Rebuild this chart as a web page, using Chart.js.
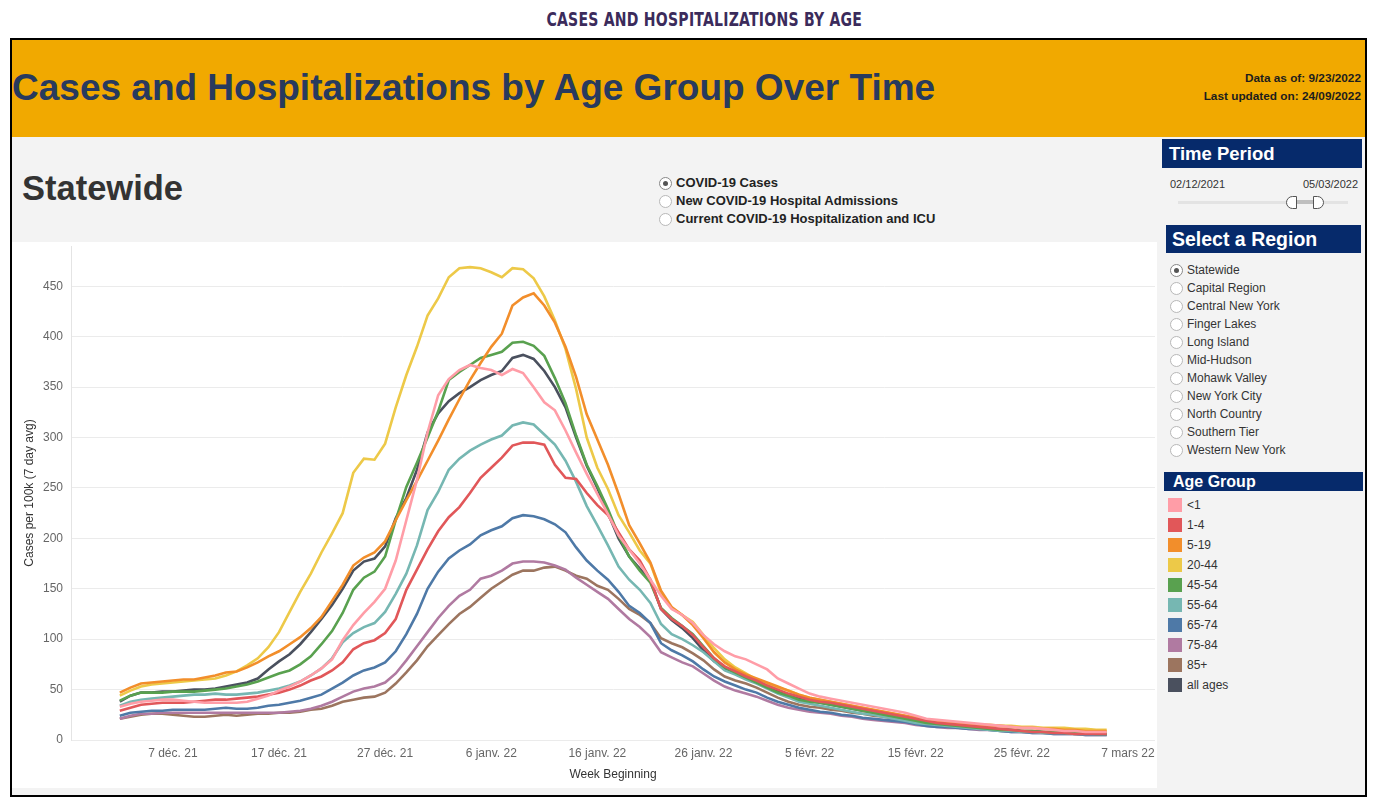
<!DOCTYPE html>
<html>
<head>
<meta charset="utf-8">
<script src="https://cdn.jsdelivr.net/npm/chart.js@4.4.1/dist/chart.umd.min.js"></script>
<style>
  html,body{margin:0;padding:0;}
  body{width:1380px;height:811px;background:#fff;position:relative;overflow:hidden;font-family:"Liberation Sans",Arial,sans-serif;}
  .a{position:absolute;}
  #topTitle{left:14px;width:1380px;top:9px;text-align:center;}
  #topTitle span{display:inline-block;transform:scaleX(0.80);transform-origin:center;font-family:"Liberation Sans Narrow","DejaVu Sans Condensed",sans-serif;font-weight:bold;font-size:19.5px;line-height:22px;color:#3b2b5b;letter-spacing:0.3px;}
  #frame{left:10px;top:38px;width:1353px;height:755px;border:2px solid #000;background:#f3f3f3;}
  #band{left:12px;top:40px;width:1353px;height:97px;background:#f1a900;}
  #mainTitle{left:12px;top:66px;font-weight:bold;font-size:37px;line-height:44px;color:#283a5e;white-space:nowrap;}
  .asof{right:19px;font-weight:bold;font-size:11.8px;line-height:14px;color:#1d1d1d;text-align:right;white-space:nowrap;}
  #statewide{left:22px;top:168px;font-weight:bold;font-size:34.5px;line-height:40px;color:#333;}
  .radio{width:11px;height:11px;border:1px solid #b8b8b8;border-radius:50%;background:#fff;box-sizing:content-box;}
  .radio.sel::after{content:"";position:absolute;left:3px;top:3px;width:5px;height:5px;border-radius:50%;background:#555;}
  .radio.sel{border-color:#888;}
  .mlabel{font-weight:bold;font-size:13px;line-height:16px;color:#222;white-space:nowrap;}
  #chartBox{left:12px;top:242px;width:1145px;height:546px;background:#fff;}
  .hdr{background:#062a6b;color:#fff;font-weight:bold;white-space:nowrap;}
  .slabel{font-size:12px;line-height:14px;color:#333;white-space:nowrap;}
  .sw{width:14px;height:14px;}
</style>
</head>
<body>
<div class="a" id="topTitle"><span>CASES AND HOSPITALIZATIONS BY AGE</span></div>
<div class="a" id="frame"></div>
<div class="a" id="band"></div>
<div class="a" id="mainTitle">Cases and Hospitalizations by Age Group Over Time</div>
<div class="a asof" style="top:71px;">Data as of: 9/23/2022</div>
<div class="a asof" style="top:89px;">Last updated on: 24/09/2022</div>
<div class="a" id="statewide">Statewide</div>
<div id="metricList"></div>
<div class="a" id="chartBox"><canvas id="c" width="1145" height="546"></canvas></div>

<div class="a hdr" style="left:1162px;top:139px;width:193px;height:29px;padding-left:7px;font-size:18.5px;line-height:30px;">Time Period</div>
<div class="a slabel" style="left:1170px;top:177px;font-size:11px;">02/12/2021</div>
<div class="a slabel" style="left:1303px;top:177px;font-size:11px;">05/03/2022</div>
<div class="a" style="left:1178px;top:201px;width:170px;height:3px;background:#e3e3e3;"></div>
<div class="a" style="left:1296px;top:200px;width:18px;height:4px;background:#bfbfbf;"></div>
<div class="a" style="left:1286px;top:196px;width:9px;height:11px;border:1px solid #555;border-radius:7px 0 0 7px;background:#fff;"></div>
<div class="a" style="left:1313px;top:196px;width:9px;height:11px;border:1px solid #555;border-radius:0 7px 7px 0;background:#fff;"></div>

<div class="a hdr" style="left:1166px;top:225px;width:189px;height:28px;padding-left:6px;font-size:19.5px;line-height:29px;">Select a Region</div>
<div id="regionList"></div>

<div class="a hdr" style="left:1164px;top:472px;width:190px;height:19px;padding-left:9px;font-size:16px;line-height:20px;">Age Group</div>
<div id="legendList"></div>

<script>
// ---------- DATA ----------
const startDate = '2021-12-02';
const tickDates = ['2021-12-07','2021-12-17','2021-12-27','2022-01-06','2022-01-16','2022-01-26','2022-02-05','2022-02-15','2022-02-25','2022-03-07'];
const tickLabels = ['7 déc. 21','17 déc. 21','27 déc. 21','6 janv. 22','16 janv. 22','26 janv. 22','5 févr. 22','15 févr. 22','25 févr. 22','7 mars 22'];
const axisDaysBefore = 4.6;   // time axis starts ~4.6 days before the first date
const axisDaysAfter = 97.55;  // time axis ends ~97.55 days after the first date
const yTicks = [0,50,100,150,200,250,300,350,400,450];
const yMax = 490;

const seriesNames = ['<1','1-4','5-19','20-44','45-54','55-64','65-74','75-84','85+','all ages'];
const seriesColors = ['#ff9da7','#e15759','#f28e2b','#edc948','#59a14f','#76b7b2','#4e79a7','#b07aa1','#9c755f','#4a505e'];

const ageLt1 = [33,36,38,39,40,40,39,38,37,37, 37,37,38,41,44,49,53,58,64,71, 80,99,114,126,137,150,178,218,258,305, 342,358,367,372,369,367,362,368,364,350, 335,327,307,285,264,244,224,203,189,175, 159,143,130,124,116,104,95,88,83,80, 75,70,61,56,51,46,43,41,39,37, 35,33,31,29,27,24,21,20,19,18, 17,16,15,14,13,12,12,11,10,9, 9,8,8,8];
const age1to4 = [29,32,35,36,37,37,37,38,39,40, 40,41,42,43,45,47,50,54,59,63, 69,77,90,96,99,106,120,149,169,189, 207,221,231,245,260,270,280,292,295,295, 293,273,260,259,245,233,223,206,189,178, 159,130,120,113,104,92,81,73,68,63, 59,54,50,46,43,40,38,37,35,33, 31,29,27,25,23,21,19,17,16,15, 14,13,12,11,10,9,8,8,7,7, 6,6,6,6];
const age5to19 = [47,52,56,57,58,59,60,60,62,64, 67,68,72,77,83,88,95,102,111,122, 138,154,173,181,186,197,218,238,257,277, 297,318,338,357,374,390,403,431,439,443, 431,414,390,360,323,298,273,244,213,195, 176,148,132,124,114,101,87,77,70,65, 61,57,53,49,45,42,40,38,36,34, 32,30,28,26,24,22,20,19,18,17, 16,15,14,14,13,12,12,11,11,10, 10,9,9,9];
const age20to44 = [44,49,53,55,56,57,58,59,60,61, 64,68,74,81,92,107,127,147,165,186, 205,225,265,279,278,294,330,362,390,421, 438,459,468,469,468,464,459,468,467,458, 440,416,388,348,300,270,249,223,206,188, 175,146,131,124,117,104,91,80,72,66, 60,56,52,49,45,42,40,38,36,34, 32,30,28,26,24,22,20,19,18,17, 16,15,15,14,14,13,13,12,12,12, 11,11,10,10];
const age45to54 = [39,44,47,47,47,48,48,48,49,50, 51,53,55,58,62,66,69,75,83,95, 108,126,149,161,167,182,218,251,275,300, 326,357,365,372,379,382,385,394,395,391, 381,359,334,302,273,252,229,203,182,168, 156,131,121,113,105,93,81,72,67,62, 57,52,47,44,40,38,37,35,33,31, 29,27,25,23,21,19,17,16,15,14, 13,12,11,10,10,9,9,8,8,7, 7,7,6,6];
const age55to64 = [34,38,40,41,42,43,44,45,45,46, 45,45,46,47,49,51,54,58,64,71, 81,97,106,112,116,127,145,165,193,228, 246,268,279,287,293,298,302,312,315,313, 303,293,277,256,232,213,193,172,159,149, 136,115,105,100,94,87,78,69,65,60, 56,51,46,42,38,36,34,32,30,28, 26,25,23,21,19,17,16,15,14,13, 12,11,10,9,9,8,8,7,7,7, 6,6,6,6];
const age65to74 = [24,27,28,29,29,30,30,30,30,31, 32,31,31,32,34,35,37,39,42,45, 51,57,64,69,72,77,88,105,125,150, 167,180,188,194,203,208,212,220,223,222, 219,214,206,191,178,168,159,147,133,126, 116,96,89,84,78,70,63,58,54,50, 47,42,38,35,32,30,28,27,25,24, 22,21,20,19,18,16,14,13,13,12, 11,11,10,9,8,8,7,7,6,6, 6,5,5,5];
const age75to84 = [21,24,26,26,27,27,27,27,27,27, 27,27,27,27,27,27,28,29,31,34, 38,43,48,51,53,57,66,79,93,107, 121,133,143,149,160,163,168,175,177,177, 176,173,169,161,154,147,140,130,120,112, 102,87,82,77,73,66,59,53,49,46, 43,39,35,32,30,28,27,26,24,23, 21,20,19,18,17,15,14,13,12,12, 11,10,10,9,8,8,7,7,6,6, 6,5,5,5];
const age85plus = [21,23,25,26,26,25,24,23,23,24, 25,24,25,26,26,27,27,28,30,31, 34,38,40,42,43,47,56,67,79,93, 104,115,125,132,141,150,157,164,168,168, 171,172,168,163,160,153,149,140,130,124, 116,101,96,92,86,79,70,63,59,56, 52,47,42,38,35,33,32,30,29,27, 26,24,23,21,20,18,16,15,14,13, 12,12,11,10,9,9,8,8,7,7, 6,6,6,6];
const allAges = [38,44,47,47,48,48,49,50,50,51, 53,55,57,61,70,78,85,95,107,120, 134,150,168,177,180,192,220,240,268,305, 324,336,344,350,357,362,366,379,382,378, 366,350,330,300,272,250,225,200,182,170, 159,130,119,111,101,89,78,71,67,62, 58,53,49,45,42,39,37,35,33,31, 29,27,25,23,21,19,17,16,15,14, 13,12,11,10,10,9,9,8,8,7, 7,7,7,6];

const seriesValues = [ageLt1, age1to4, age5to19, age20to44, age45to54, age55to64, age65to74, age75to84, age85plus, allAges];

const metricOptions = ['COVID-19 Cases','New COVID-19 Hospital Admissions','Current COVID-19 Hospitalization and ICU'];
const regions = ['Statewide','Capital Region','Central New York','Finger Lakes','Long Island','Mid-Hudson','Mohawk Valley','New York City','North Country','Southern Tier','Western New York'];

// ---------- HTML side panels ----------
function addRadios(containerId, items, x, y0, step, labelClass, labelDx, labelDy) {
  const box = document.getElementById(containerId);
  items.forEach((t, i) => {
    const r = document.createElement('div');
    r.className = 'a radio' + (i === 0 ? ' sel' : '');
    r.style.left = x + 'px'; r.style.top = (y0 + i * step - 6) + 'px';
    box.appendChild(r);
    const l = document.createElement('div');
    l.className = 'a ' + labelClass;
    l.style.left = (x + labelDx) + 'px'; l.style.top = (y0 + i * step - labelDy) + 'px';
    l.textContent = t;
    box.appendChild(l);
  });
}
addRadios('metricList', metricOptions, 659, 183, 18, 'mlabel', 17, 8);
addRadios('regionList', regions, 1170, 270, 18, 'slabel', 17, 7);

const leg = document.getElementById('legendList');
seriesNames.forEach((n, i) => {
  const s = document.createElement('div');
  s.className = 'a sw'; s.style.left = '1168px'; s.style.top = (498 + i * 20) + 'px';
  s.style.background = seriesColors[i];
  leg.appendChild(s);
  const l = document.createElement('div');
  l.className = 'a slabel'; l.style.left = '1187px'; l.style.top = (498 + i * 20) + 'px';
  l.textContent = n;
  leg.appendChild(l);
});

// ---------- CHART ----------
const DAY = 86400000;
const dayIndex = d => Math.round((Date.parse(d) - Date.parse(startDate)) / DAY);

Chart.defaults.font.family = '"Liberation Sans", Arial, sans-serif';

const datasets = seriesNames.map((n, k) => ({
  label: n,
  data: seriesValues[k].map((v, i) => ({x: i, y: v})),
  borderColor: seriesColors[k],
  backgroundColor: seriesColors[k],
  borderWidth: 2.6,
  pointRadius: 0,
  tension: 0,
  fill: false
}));

new Chart(document.getElementById('c'), {
  type: 'line',
  data: {datasets},
  options: {
    responsive: false,
    animation: false,
    maintainAspectRatio: false,
    layout: {padding: {top: 4, right: 2, left: 0, bottom: 0}},
    plugins: {legend: {display: false}, tooltip: {enabled: false}},
    scales: {
      x: {
        type: 'linear',
        min: -axisDaysBefore,
        max: axisDaysAfter,
        afterBuildTicks: s => { s.ticks = tickDates.map(d => ({value: dayIndex(d)})); },
        afterFit: s => { s.height = 48; s.paddingLeft = 0; s.paddingRight = 0; s.paddingTop = 0; s.paddingBottom = 0; },
        ticks: {
          callback: (v, i) => tickLabels[i],
          color: '#666', font: {size: 12}, padding: 6, maxRotation: 0, autoSkip: false
        },
        grid: {display: false, drawTicks: false},
        border: {display: false},
        title: {display: true, text: 'Week Beginning', color: '#333', font: {size: 12}, padding: {top: 0, bottom: 6}}
      },
      y: {
        min: 0,
        max: yMax,
        afterBuildTicks: s => { s.ticks = yTicks.map(v => ({value: v})); },
        afterFit: s => { s.width = 59; s.paddingLeft = 0; s.paddingRight = 0; s.paddingTop = 0; s.paddingBottom = 0; },
        ticks: {color: '#666', font: {size: 12}, padding: 8},
        grid: {color: '#ebebeb', drawTicks: false},
        border: {display: true, color: '#e4e4e4'},
        title: {display: true, text: 'Cases per 100k (7 day avg)', color: '#333', font: {size: 12}, padding: {top: 10, bottom: 0}}
      }
    }
  }
});
</script>
</body>
</html>
